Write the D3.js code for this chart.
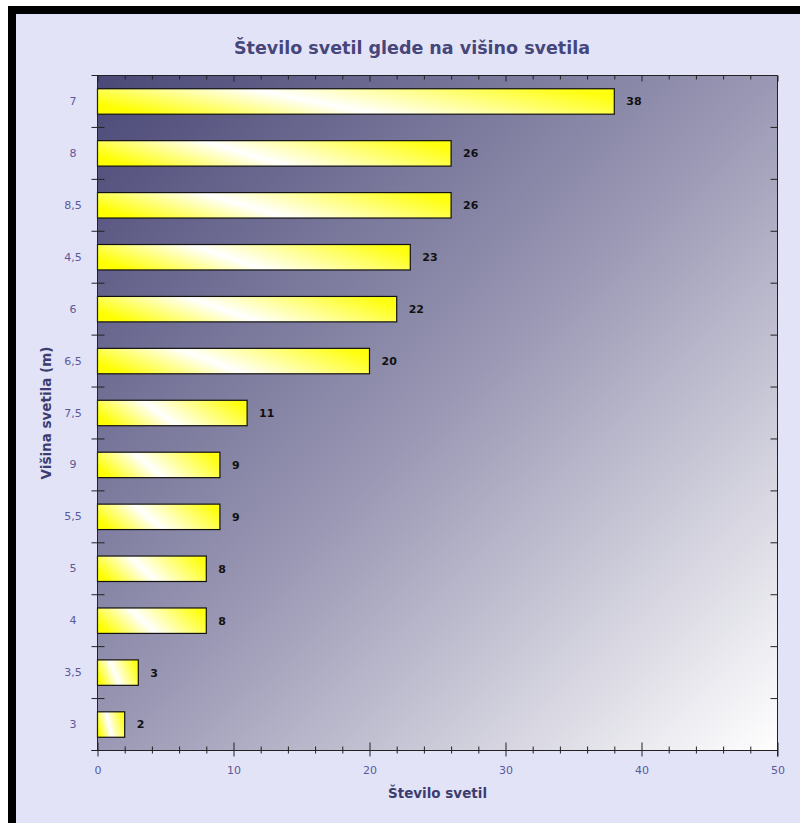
<!DOCTYPE html>
<html>
<head>
<meta charset="utf-8">
<script src="https://cdn.jsdelivr.net/npm/d3@7"></script>
<style>
  html, body { margin: 0; padding: 0; background: #ffffff; }
  svg { display: block; }
</style>
</head>
<body>
<svg id="chart" width="800" height="823"></svg>
<script>
// Lamp heights (m) in display order, top to bottom
const categories = ["7", "8", "8,5", "4,5", "6", "6,5", "7,5", "9", "5,5", "5", "4", "3,5", "3"];
// Number of lamps per height
const counts = [38, 26, 26, 23, 22, 20, 11, 9, 9, 8, 8, 3, 2];
// Value axis ticks
const xTicks = [0, 10, 20, 30, 40, 50];
const xMinorTicks = d3.range(0, 51, 2);

const titleText = "Število svetil glede na višino svetila";
const xTitle = "Število svetil";
const yTitle = "Višina svetila (m)";

(function drawChart() {
  const svg = d3.select("#chart");
  const W = 800, H = 823;
  const plot = { left: 97.5, top: 75.5, right: 777.5, bottom: 750.5 };

  const defs = svg.append("defs");

  // plot background: dark navy in the top-left corner fading to white bottom-right
  const bg = defs.append("linearGradient")
    .attr("id", "plotBg")
    .attr("x1", 0).attr("y1", 0).attr("x2", 1).attr("y2", 1);
  bg.append("stop").attr("offset", 0).attr("stop-color", "#4a4876");
  bg.append("stop").attr("offset", 0.5).attr("stop-color", "#9a98b4");
  bg.append("stop").attr("offset", 1).attr("stop-color", "#ffffff");

  // glossy yellow bar fill with a slanted white highlight
  const barGrad = defs.append("linearGradient")
    .attr("id", "barFill")
    .attr("x1", 0).attr("y1", 0.62).attr("x2", 1).attr("y2", 0.38);
  barGrad.append("stop").attr("offset", 0).attr("stop-color", "#ffff00");
  barGrad.append("stop").attr("offset", 0.42).attr("stop-color", "#ffffff");
  barGrad.append("stop").attr("offset", 1).attr("stop-color", "#ffff10");

  // page frame: lavender panel with a heavy black border on the top and left
  svg.append("rect").attr("x", 0).attr("y", 0).attr("width", W).attr("height", H).attr("fill", "#ffffff");
  svg.append("rect").attr("x", 8).attr("y", 6).attr("width", W - 8).attr("height", H - 6).attr("fill", "#000000");
  svg.append("rect").attr("x", 16).attr("y", 14).attr("width", W - 16).attr("height", H - 14).attr("fill", "#e3e3f8");

  // scales
  const x = d3.scaleLinear().domain([0, 50]).range([plot.left, plot.right]);
  const y = d3.scaleBand().domain(categories).range([plot.top, plot.bottom]).paddingInner(0.51).paddingOuter(0.255);
  const yBounds = d3.scaleBand().domain(categories).range([plot.top, plot.bottom]);

  // plot area
  svg.append("rect")
    .attr("x", plot.left).attr("y", plot.top)
    .attr("width", plot.right - plot.left).attr("height", plot.bottom - plot.top)
    .attr("fill", "url(#plotBg)");

  // bars
  const rows = categories.map((c, i) => ({ cat: c, val: counts[i] }));
  svg.append("g").selectAll("rect").data(rows).join("rect")
    .attr("x", x(0))
    .attr("y", d => y(d.cat))
    .attr("width", d => x(d.val) - x(0))
    .attr("height", y.bandwidth())
    .attr("fill", "url(#barFill)")
    .attr("stroke", "#111111")
    .attr("stroke-width", 1.2);

  // value labels
  svg.append("g").selectAll("text").data(rows).join("text")
    .attr("x", d => x(d.val) + 12)
    .attr("y", d => y(d.cat) + y.bandwidth() / 2)
    .attr("dy", "0.36em")
    .attr("font-family", "Tahoma, 'DejaVu Sans', sans-serif")
    .attr("font-size", 11)
    .attr("font-weight", "bold")
    .attr("fill", "#111111")
    .text(d => d.val);

  const axisColor = "#222222";
  const tickFont = "Tahoma, 'DejaVu Sans', sans-serif";
  const titleFont = "Tahoma, 'DejaVu Sans', sans-serif";

  // bottom axis: ticks straddle the line
  const bottomAxis = svg.append("g").attr("transform", `translate(0,${plot.bottom})`)
    .call(d3.axisBottom(x).tickValues(xMinorTicks).tickSize(0).tickFormat(""));
  bottomAxis.select(".domain").remove();
  bottomAxis.selectAll(".tick").each(function(d) {
    const major = d % 10 === 0;
    d3.select(this).select("line")
      .attr("y1", major ? -8 : -4).attr("y2", major ? 6 : 3)
      .attr("stroke", axisColor);
  });
  svg.append("line")
    .attr("x1", plot.left - 6).attr("x2", plot.right)
    .attr("y1", plot.bottom).attr("y2", plot.bottom)
    .attr("stroke", axisColor);
  const bottomLabels = svg.append("g").attr("transform", `translate(0,${plot.bottom + 20})`)
    .call(d3.axisBottom(x).tickValues(xTicks).tickSize(0).tickPadding(0));
  bottomLabels.select(".domain").remove();
  bottomLabels.selectAll("text")
    .attr("font-family", tickFont).attr("font-size", 11).attr("fill", "#5a5a98").attr("dy", "0.32em");

  // top axis: inward ticks only
  const topAxis = svg.append("g").attr("transform", `translate(0,${plot.top})`)
    .call(d3.axisTop(x).tickValues(xMinorTicks).tickSize(0).tickFormat(""));
  topAxis.select(".domain").remove();
  topAxis.selectAll(".tick line").each(function(d) {
    d3.select(this).attr("y1", 0).attr("y2", d % 10 === 0 ? 6 : 4).attr("stroke", axisColor);
  });
  svg.append("line")
    .attr("x1", plot.left).attr("x2", plot.right)
    .attr("y1", plot.top).attr("y2", plot.top)
    .attr("stroke", axisColor);

  // left axis: category boundary ticks across the line, labels centred in each band
  const boundaries = categories.map(c => yBounds(c)).concat([plot.bottom]);
  svg.append("g").selectAll("line").data(boundaries).join("line")
    .attr("x1", plot.left - 6).attr("x2", plot.left + 7)
    .attr("y1", d => d).attr("y2", d => d)
    .attr("stroke", axisColor);
  svg.append("line")
    .attr("x1", plot.left).attr("x2", plot.left)
    .attr("y1", plot.top).attr("y2", plot.bottom)
    .attr("stroke", axisColor);
  const leftAxis = svg.append("g").attr("transform", `translate(73,0)`)
    .call(d3.axisLeft(y).tickSize(0).tickPadding(0));
  leftAxis.select(".domain").remove();
  leftAxis.selectAll("text")
    .attr("text-anchor", "middle")
    .attr("font-family", tickFont).attr("font-size", 11).attr("fill", "#5a5a98");

  // right axis: inward boundary ticks
  svg.append("g").selectAll("line").data(boundaries.slice(1, -1)).join("line")
    .attr("x1", plot.right - 7).attr("x2", plot.right)
    .attr("y1", d => d).attr("y2", d => d)
    .attr("stroke", axisColor);
  svg.append("line")
    .attr("x1", plot.right).attr("x2", plot.right)
    .attr("y1", plot.top).attr("y2", plot.bottom + 6)
    .attr("stroke", axisColor);

  // titles
  svg.append("text")
    .attr("x", 412).attr("y", 54)
    .attr("text-anchor", "middle")
    .attr("font-family", titleFont)
    .attr("font-size", 17.5).attr("font-weight", "bold")
    .attr("fill", "#46467a")
    .text(titleText);

  svg.append("text")
    .attr("x", (plot.left + plot.right) / 2).attr("y", 798)
    .attr("text-anchor", "middle")
    .attr("font-family", titleFont)
    .attr("font-size", 13.5).attr("font-weight", "bold")
    .attr("fill", "#3c3c6e")
    .text(xTitle);

  svg.append("text")
    .attr("transform", `translate(51,413) rotate(-90)`)
    .attr("text-anchor", "middle")
    .attr("font-family", titleFont)
    .attr("font-size", 13.5).attr("font-weight", "bold")
    .attr("fill", "#3c3c6e")
    .text(yTitle);
})();
</script>
</body>
</html>
